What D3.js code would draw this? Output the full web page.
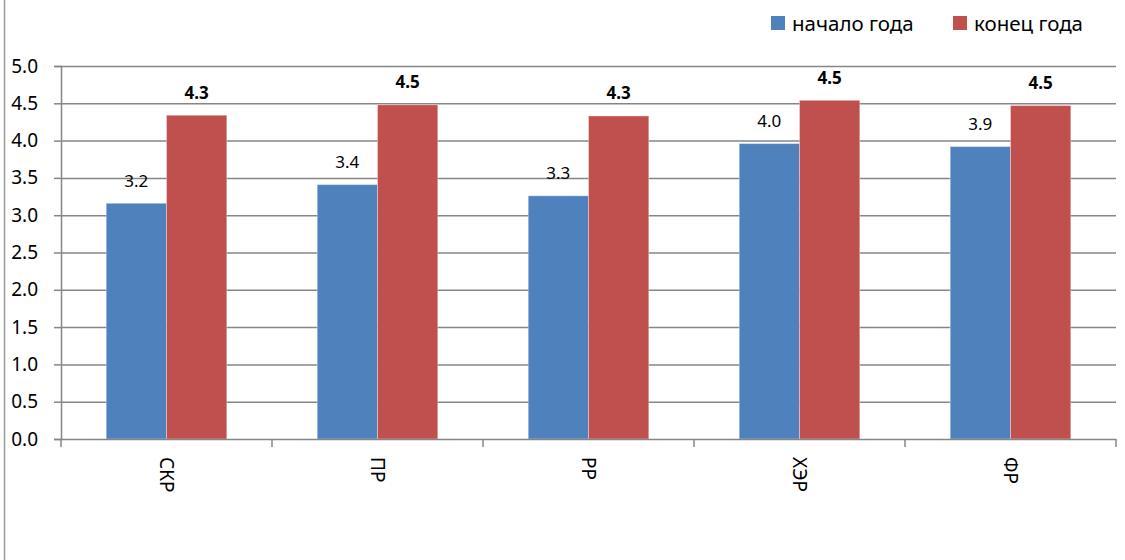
<!DOCTYPE html>
<html><head><meta charset="utf-8">
<script src="https://cdn.jsdelivr.net/npm/d3@7"></script>
<style>body{margin:0;background:#fff;} svg{display:block;font-family:"Noto Sans",sans-serif;}</style>
</head><body>
<svg id="c" width="1125" height="560"></svg>
<script>
const categories = ["СКР","ПР","РР","ХЭР","ФР"];
const seriesNames = ["начало года","конец года"];
const startValues = [3.16, 3.41, 3.26, 3.96, 3.92];
const endValues = [4.34, 4.48, 4.33, 4.54, 4.47];
const startLabels = ["3.2","3.4","3.3","4.0","3.9"];
const endLabels = ["4.3","4.5","4.3","4.5","4.5"];
const yTicks = [0,0.5,1,1.5,2,2.5,3,3.5,4,4.5,5];
const colors = ["#4F81BD","#C0504D"];

const svg = d3.select("#c");
const L = 61, R = 1116, T = 66, B = 439;
const x = d3.scaleBand().domain(categories).range([L,R]);
const y = d3.scaleLinear().domain([0,5]).range([B,T]);
const grey = "#868686";

// outer left border
svg.append("line").attr("x1",4.5).attr("x2",4.5).attr("y1",0).attr("y2",560).attr("stroke","#9a9a9a").attr("stroke-width",1.5);

// gridlines + y axis
const yAxis = d3.axisLeft(y).tickValues(yTicks).tickFormat(d3.format(".1f")).tickSize(7).tickPadding(16);
const gy = svg.append("g").attr("transform",`translate(${L},0)`).call(yAxis);
gy.select(".domain").attr("stroke",grey).attr("stroke-width",1.5);
gy.selectAll(".tick line").attr("stroke",grey).attr("stroke-width",1.5);
gy.selectAll(".tick text").attr("fill","#000").style("font-size","19px").style("font-family","'Noto Sans',sans-serif");
svg.append("g").selectAll("line").data(yTicks.filter(d=>d>0)).join("line")
  .attr("x1",L).attr("x2",R).attr("y1",d=>y(d)+0.5).attr("y2",d=>y(d)+0.5)
  .attr("stroke",grey).attr("stroke-width",1.5);

const bw = x.bandwidth()/3.5;
const off = (x.bandwidth()-2*bw)/2;
const series = [startValues, endValues];
const labels = [startLabels, endLabels];
series.forEach((vals,si)=>{
  svg.append("g").selectAll("rect").data(categories).join("rect")
    .attr("x",(d)=>x(d)+off+si*bw)
    .attr("y",(d,i)=>y(vals[i]))
    .attr("width",bw)
    .attr("height",(d,i)=>B-y(vals[i]))
    .attr("fill",colors[si]).attr("stroke","#ffffff").attr("stroke-opacity",0.35).attr("stroke-width",1);
  svg.append("g").selectAll("text").data(categories).join("text")
    .attr("x",(d)=>x(d)+off+si*bw+bw/2)
    .attr("y",(d,i)=>y(vals[i])-23)
    .attr("text-anchor","middle").attr("dominant-baseline","central")
    .style("font-size","17px").style("font-weight",si===1?"bold":"normal")
    .attr("fill","#000")
    .text((d,i)=>labels[si][i]);
});

// x axis
const xAxis = d3.axisBottom(x).tickSize(0).tickFormat(d=>d);
const gx = svg.append("g").attr("transform",`translate(0,${B})`).call(xAxis);
gx.select(".domain").remove();
svg.append("line").attr("x1",L).attr("x2",R).attr("y1",B+0.5).attr("y2",B+0.5).attr("stroke",grey).attr("stroke-width",1.5);
const bounds = categories.map(c=>x(c)).concat([R]);
svg.append("g").selectAll("line").data(bounds).join("line")
  .attr("x1",d=>d).attr("x2",d=>d).attr("y1",B).attr("y2",B+8).attr("stroke",grey).attr("stroke-width",1.5);
gx.selectAll(".tick text")
  .attr("transform","translate(0,18) rotate(90)")
  .attr("x",0).attr("y",0).attr("dy","0.35em")
  .attr("text-anchor","start").attr("fill","#000")
  .style("font-size","19px").style("font-family","'Noto Sans',sans-serif");

// legend
const leg = svg.append("g");
const legX = [771, 953];
seriesNames.forEach((n,i)=>{
  leg.append("rect").attr("x",legX[i]).attr("y",16).attr("width",14).attr("height",14).attr("fill",colors[i]);
  leg.append("text").attr("x",legX[i]+21).attr("y",23).attr("dominant-baseline","central")
    .style("font-size","20.5px").attr("fill","#000").text(n);
});
</script>
</body></html>
